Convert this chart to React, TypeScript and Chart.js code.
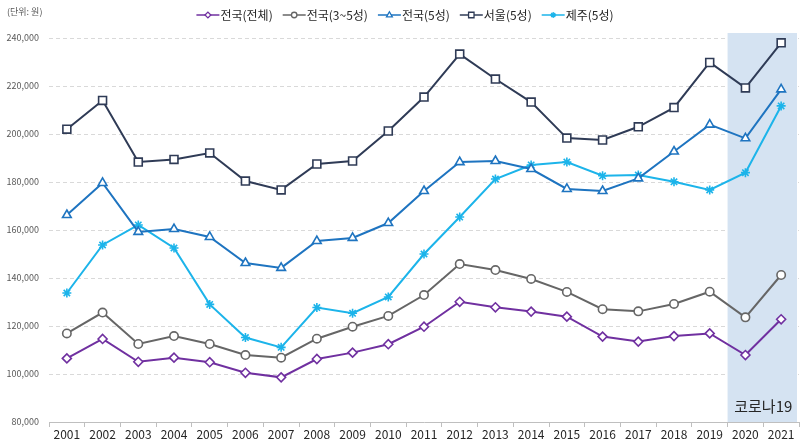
import React, { useEffect, useRef } from "react";
import { Chart, registerables } from "chart.js";
Chart.register(...registerables);

const years = ["2001","2002","2003","2004","2005","2006","2007","2008","2009","2010","2011","2012","2013","2014","2015","2016","2017","2018","2019","2020","2021"];
const nationalAll = [106500,114600,105100,106800,104900,100500,98600,106250,108900,112400,119700,130100,127800,126000,123900,115600,113500,115800,116900,107900,122800];
const national35 = [116900,125600,112500,115800,112500,107900,106800,114700,119700,124200,132900,145800,143300,139600,134200,127000,126100,129200,134300,123600,141250];
const national5 = [166250,179600,159200,160400,157100,146250,144200,155400,156700,162900,176250,188300,188750,185400,177100,176250,181500,192700,203900,198200,218600];
const seoul5 = [202000,214000,188300,189400,192100,180400,176700,187500,188750,201250,215400,233300,222900,213300,198300,197500,203000,211000,229800,219200,238000];
const jeju5 = [133750,153750,162100,152500,129000,115200,111100,127700,125300,132100,150000,165400,181250,187100,188300,182600,182900,180100,176700,183900,211700];
const yTicks = [80000,100000,120000,140000,160000,180000,200000,220000,240000];
const seriesNames = ["전국(전체)","전국(3~5성)","전국(5성)","서울(5성)","제주(5성)"];
const seriesColors = ["#7030A0","#666666","#1E74C0","#2F3B56","#1CB4EA"];
const seriesMarkers = ["rectRot","circle","triangle","rect","star"];
const seriesRadii = [4.5,4.2,5,5.6,4.5];
const highlightLabel = "코로나19";
const unitLabel = "(단위: 원)";
const highlightFrom = 19;

const KFONT = "'Noto Sans CJK KR', 'Noto Sans', sans-serif";

export default function App() {
  const ref = useRef<HTMLCanvasElement | null>(null);
  useEffect(() => {
    if (!ref.current) return;
    const seriesData = [nationalAll, national35, national5, seoul5, jeju5];

    function drawPointSimple(ctx: CanvasRenderingContext2D, style: string, r: number, x: number, y: number) {
      ctx.beginPath();
      switch (style) {
        case "rectRot":
          ctx.moveTo(x - r, y); ctx.lineTo(x, y - r); ctx.lineTo(x + r, y); ctx.lineTo(x, y + r); ctx.closePath();
          ctx.fill(); ctx.stroke(); break;
        case "circle":
          ctx.arc(x, y, r, 0, Math.PI * 2); ctx.fill(); ctx.stroke(); break;
        case "triangle":
          ctx.moveTo(x, y - r); ctx.lineTo(x + r * 0.9, y + r * 0.6); ctx.lineTo(x - r * 0.9, y + r * 0.6); ctx.closePath();
          ctx.fill(); ctx.stroke(); break;
        case "rect": {
          const s = r * 0.75;
          ctx.rect(x - s, y - s, 2 * s, 2 * s); ctx.fill(); ctx.stroke(); break;
        }
        case "star":
          for (let k = 0; k < 4; k++) {
            const a = (k * Math.PI) / 4;
            ctx.moveTo(x - Math.cos(a) * r, y - Math.sin(a) * r);
            ctx.lineTo(x + Math.cos(a) * r, y + Math.sin(a) * r);
          }
          ctx.stroke(); break;
      }
    }

    const highlightPlugin = {
      id: "highlight",
      beforeDatasetsDraw(chart: any) {
        const { ctx, chartArea, scales } = chart;
        const xs = scales.x;
        const left = (xs.getPixelForValue(highlightFrom - 1) + xs.getPixelForValue(highlightFrom)) / 2;
        const right = chartArea.right - 2;
        const top = chartArea.top - 5;
        const bottom = chartArea.bottom;
        ctx.save();
        ctx.fillStyle = "rgb(213,227,242)";
        ctx.fillRect(left, top, right - left, bottom - top);
        ctx.fillStyle = "#262626";
        ctx.font = `15px ${KFONT}`;
        ctx.textAlign = "center";
        ctx.textBaseline = "middle";
        ctx.fillText(highlightLabel, (left + right) / 2 + 1, bottom - 16);
        ctx.restore();
      },
    };

    const legendPlugin = {
      id: "customLegend",
      afterDraw(chart: any) {
        const { ctx } = chart;
        ctx.save();
        ctx.font = `12px ${KFONT}`;
        const lineLen = 23;
        const gap = 1;
        const itemGap = 10;
        const widths = seriesNames.map((n) => lineLen + gap + ctx.measureText(n).width);
        const total = widths.reduce((a, b) => a + b, 0) + itemGap * (seriesNames.length - 1);
        let x = 405 - total / 2;
        const y = 15;
        seriesNames.forEach((name, i) => {
          ctx.strokeStyle = seriesColors[i];
          ctx.lineWidth = 1.5;
          ctx.beginPath();
          ctx.moveTo(x, y);
          ctx.lineTo(x + lineLen, y);
          ctx.stroke();
          ctx.fillStyle = "#ffffff";
          ctx.lineWidth = 1.3;
          drawPointSimple(ctx, seriesMarkers[i], seriesRadii[i] * 0.65, x + lineLen / 2, y);
          ctx.fillStyle = "#262626";
          ctx.textAlign = "left";
          ctx.textBaseline = "middle";
          ctx.fillText(name, x + lineLen + gap, y);
          x += widths[i] + itemGap;
        });
        ctx.fillStyle = "#595959";
        ctx.font = `9px ${KFONT}`;
        ctx.textAlign = "left";
        ctx.fillText(unitLabel, 7, 12);
        ctx.restore();
      },
    };

    const chart = new Chart(ref.current, {
      type: "line",
      data: {
        labels: years,
        datasets: seriesData.map((d, i) => ({
          label: seriesNames[i],
          data: d,
          borderColor: seriesColors[i],
          backgroundColor: "#ffffff",
          pointBackgroundColor: "#ffffff",
          pointBorderColor: seriesColors[i],
          pointStyle: seriesMarkers[i] as any,
          pointRadius: seriesRadii[i],
          pointBorderWidth: 1.6,
          borderWidth: 2,
          tension: 0,
          fill: false,
          clip: false as any,
        })),
      },
      options: {
        animation: false,
        responsive: true,
        maintainAspectRatio: false,
        layout: { autoPadding: false, padding: { top: 38, left: 0, right: 1, bottom: 0 } },
        plugins: { legend: { display: false }, tooltip: { enabled: false } },
        scales: {
          x: {
            offset: true,
            grid: { offset: true, drawOnChartArea: false, drawTicks: true, tickLength: 5, color: "#bfbfbf" },
            border: { display: true, color: "#bfbfbf", width: 1 },
            ticks: { color: "#262626", font: { size: 12, family: KFONT }, padding: 0, maxRotation: 0, autoSkip: false },
            afterFit(scale: any) { scale.height = 22; scale.paddingLeft = 0; scale.paddingRight = 0; },
          },
          y: {
            min: 80000,
            max: 240000,
            afterBuildTicks(scale: any) { scale.ticks = yTicks.map((v) => ({ value: v })); },
            grid: {
              drawTicks: false,
              color: (c: any) => (c.tick && c.tick.value === 80000 ? "rgba(0,0,0,0)" : "#d9d9d9"),
              lineWidth: 1,
            },
            border: { display: false, dash: [4, 3] },
            ticks: {
              color: "#595959",
              font: { size: 9, family: KFONT },
              padding: 10,
              callback: (v: any) => Number(v).toLocaleString("en-US"),
            },
            afterFit(scale: any) { scale.width = 49; },
          },
        },
      },
      plugins: [highlightPlugin, legendPlugin],
    });
    return () => chart.destroy();
  }, []);

  return (
    <div style={{ position: "absolute", left: 0, top: 0, width: 800, height: 444, background: "#ffffff" }}>
      <canvas ref={ref} />
    </div>
  );
}
